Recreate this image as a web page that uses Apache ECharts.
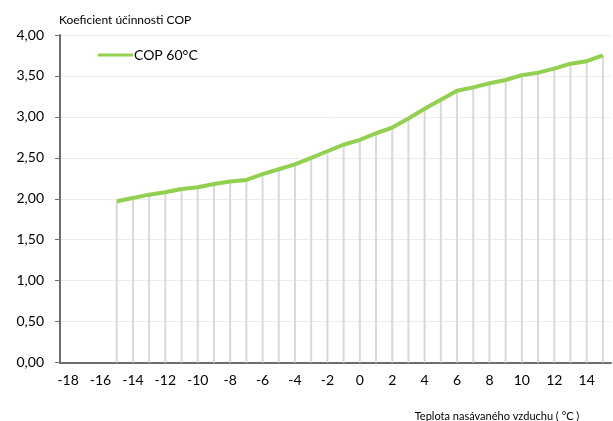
<!DOCTYPE html>
<html>
<head>
<meta charset="utf-8">
<script src="https://cdn.jsdelivr.net/npm/echarts@6/dist/echarts.min.js"></script>
<style>
  html, body { margin: 0; padding: 0; background: #fff; }
  #chart { width: 613px; height: 421px; }
</style>
</head>
<body>
<div id="chart"></div>
<script>
// teploty nasavaneho vzduchu (kategorie osy X)
var temps = [-18, -17, -16, -15, -14, -13, -12, -11, -10, -9, -8, -7, -6, -5, -4, -3, -2, -1,
  0, 1, 2, 3, 4, 5, 6, 7, 8, 9, 10, 11, 12, 13, 14, 15];
// COP pri 60°C, -18 az -16 bez hodnot
var cop60 = [null, null, null, 1.97, 2.01, 2.05, 2.08, 2.12, 2.14, 2.18, 2.21, 2.23, 2.30, 2.36,
  2.42, 2.50, 2.58, 2.66, 2.72, 2.80, 2.87, 2.98, 3.10, 3.21, 3.32, 3.36, 3.41, 3.45, 3.51,
  3.54, 3.59, 3.65, 3.68, 3.75];
var yTicks = [0, 0.5, 1, 1.5, 2, 2.5, 3, 3.5, 4];

var font = "Lato, 'Open Sans', sans-serif";
var chart = echarts.init(document.getElementById("chart"));

chart.setOption({
  animation: false,
  textStyle: { fontFamily: font },
  grid: { left: 60, right: 2, top: 35, bottom: 58.5 },
  title: {
    text: "Koeficient účinnosti COP",
    left: 54,
    top: 9,
    textStyle: { fontSize: 12, fontWeight: "normal", color: "#000", fontFamily: font }
  },
  graphic: [
    {
      type: "text",
      x: 497,
      y: 416.5,
      style: {
        text: "Teplota nasávaného vzduchu ( °C )",
        font: "11px " + font,
        fill: "#000",
        textAlign: "center",
        textVerticalAlign: "middle"
      }
    }
  ],
  legend: {
    left: 93,
    top: 43,
    itemWidth: 35,
    itemHeight: 3,
    itemGap: 2,
    data: [{ name: "COP 60°C", icon: "rect" }],
    textStyle: { fontSize: 14, color: "#000", padding: [0, 0, 0, -4] }
  },
  xAxis: {
    type: "category",
    data: temps.map(String),
    boundaryGap: true,
    axisLine: { lineStyle: { color: "#6d6d6d", width: 2 } },
    axisTick: { show: false },
    axisLabel: { interval: 1, margin: 11, fontSize: 14, color: "#000" },
    splitLine: { show: false }
  },
  yAxis: {
    type: "value",
    min: 0,
    max: yTicks[yTicks.length - 1],
    interval: 0.5,
    axisLine: { show: true, lineStyle: { color: "#6d6d6d", width: 2 } },
    axisTick: { show: true, length: 5, lineStyle: { color: "#6d6d6d" } },
    axisLabel: {
      margin: 16,
      fontSize: 14,
      color: "#000",
      formatter: function (v) { return v.toFixed(2).replace(".", ","); }
    },
    splitLine: { lineStyle: { color: "#ececec", width: 1 } }
  },
  series: [
    {
      name: "drop",
      type: "bar",
      data: cop60,
      barWidth: 2,
      itemStyle: { color: "#d9d9d9" },
      silent: true
    },
    {
      name: "COP 60°C",
      type: "line",
      data: cop60,
      symbol: "none",
      connectNulls: false,
      lineStyle: { color: "#92d050", width: 4 },
      itemStyle: { color: "#92d050" }
    }
  ]
});
</script>
</body>
</html>
